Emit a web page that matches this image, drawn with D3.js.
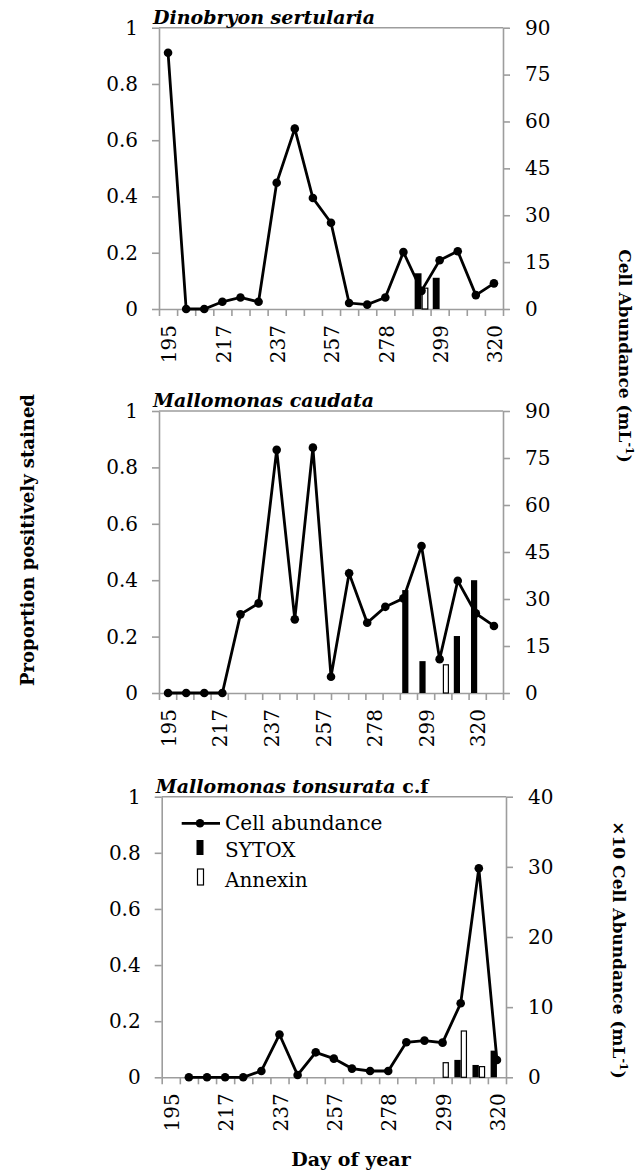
<!DOCTYPE html>
<html>
<head>
<meta charset="utf-8">
<script src="https://cdn.jsdelivr.net/npm/d3@7"></script>
<style>
body { margin: 0; background: #fff; }
svg text { font-family: 'DejaVu Serif', serif; fill: #000; }
</style>
</head>
<body>
<script>
// x tick labels (every 3rd category)
const dayLabels = ['195', '217', '237', '257', '278', '299', '320'];

// Dinobryon sertularia (19 sampling days)
const dinoAbund   = [82, 0, 0, 2.3, 3.7, 2.3, 40.4, 57.7, 35.5, 27.6, 1.9, 1.4, 3.7, 18.2, 5.8, 15.6, 18.5, 4.45, 8.2];
const dinoSytox   = [0, 0, 0, 0, 0, 0, 0, 0, 0, 0, 0, 0, 0, 0, 0.127, 0.111, 0, 0, 0];
const dinoAnnexin = [0, 0, 0, 0, 0, 0, 0, 0, 0, 0, 0, 0, 0, 0, 0.074, 0, 0, 0, 0];

// Mallomonas caudata (line on 19 days, bars on 20 categories)
const caudAbund   = [0, 0, 0, 0, 25.1, 28.6, 77.6, 23.5, 78.3, 5.2, 38.2, 22.4, 27.5, 30.2, 46.9, 10.8, 35.8, 25.4, 21.4];
const caudSytox   = [0, 0, 0, 0, 0, 0, 0, 0, 0, 0, 0, 0, 0, 0, 0.365, 0.113, 0, 0.202, 0.40, 0];
const caudAnnexin = [0, 0, 0, 0, 0, 0, 0, 0, 0, 0, 0, 0, 0, 0, 0, 0, 0.10, 0, 0, 0];

// Mallomonas tonsurata c.f (x10 cells)
const tonsAbund   = [null, 0, 0, 0, 0, 0.9, 6.1, 0.33, 3.56, 2.66, 1.24, 0.9, 0.9, 4.99, 5.23, 4.94, 10.55, 29.8, 2.47];
const tonsSytox   = [0, 0, 0, 0, 0, 0, 0, 0, 0, 0, 0, 0, 0, 0, 0, 0, 0.062, 0.044, 0.095];
const tonsAnnexin = [0, 0, 0, 0, 0, 0, 0, 0, 0, 0, 0, 0, 0, 0, 0, 0.052, 0.165, 0.038, 0];

const legendItems = ['Cell abundance', 'SYTOX', 'Annexin'];

const grey = '#9d9d9d';
const w = 637, h = 1174;

const svg = d3.select('body').append('svg')
  .attr('width', w)
  .attr('height', h);

const panels = [
  { title: [['Dinobryon sertularia', true]], abund: dinoAbund, sytox: dinoSytox, annexin: dinoAnnexin,
    rMax: 90, rStep: 15, l: 159, r: 503, t: 27.7, b: 309, bw: 0.38 },
  { title: [['Mallomonas caudata', true]], abund: caudAbund, sytox: caudSytox, annexin: caudAnnexin,
    rMax: 90, rStep: 15, l: 159, r: 503, t: 411, b: 693, bw: 0.36 },
  { title: [['Mallomonas tonsurata', true], [' c.f', false]], abund: tonsAbund, sytox: tonsSytox, annexin: tonsAnnexin,
    rMax: 40, rStep: 10, l: 161.7, r: 506, t: 796.7, b: 1077.3, bw: 0.35 }
];

function styleAxis(sel) {
  sel.attr('font-family', 'DejaVu Serif').attr('font-size', 20);
  sel.select('.domain').attr('stroke', grey).attr('stroke-width', 1.6);
  sel.selectAll('.tick line').attr('stroke', grey).attr('stroke-width', 1.6);
}

panels.forEach(p => {
  const g = svg.append('g');
  const nBar = p.sytox.length, nLine = p.abund.length;
  const xBar = d3.scaleLinear().domain([0, nBar]).range([p.l, p.r]);
  const xLine = d3.scaleLinear().domain([0, nLine]).range([p.l, p.r]);
  const yL = d3.scaleLinear().domain([0, 1]).range([p.b, p.t]);
  const yR = d3.scaleLinear().domain([0, p.rMax]).range([p.b, p.t]);

  // top border of plot area
  g.append('line')
    .attr('x1', p.l).attr('x2', p.r)
    .attr('y1', p.t).attr('y2', p.t)
    .attr('stroke', grey).attr('stroke-width', 1.6);

  g.append('g')
    .attr('transform', 'translate(' + p.l + ',0)')
    .call(d3.axisLeft(yL).tickValues([0, 0.2, 0.4, 0.6, 0.8, 1]).tickFormat(d3.format('~g'))
      .tickSize(7).tickSizeOuter(0).tickPadding(14))
    .call(styleAxis);

  g.append('g')
    .attr('transform', 'translate(' + p.r + ',0)')
    .call(d3.axisRight(yR).tickValues(d3.range(0, p.rMax + 1, p.rStep))
      .tickSize(7).tickSizeOuter(0).tickPadding(15))
    .call(styleAxis);

  g.append('g')
    .attr('transform', 'translate(0,' + p.b + ')')
    .call(d3.axisBottom(xBar).tickValues(d3.range(nBar + 1)).tickFormat('')
      .tickSize(7).tickSizeOuter(0))
    .call(styleAxis);

  g.selectAll('.day')
    .data(dayLabels)
    .join('text')
    .attr('class', 'day')
    .attr('transform', (d, i) => 'translate(' + (xBar(3 * i + 0.5) + 1) + ',' + (p.b + 16) + ') rotate(-90)')
    .attr('text-anchor', 'end')
    .attr('dy', '0.36em')
    .attr('font-size', 20)
    .text(d => d);

  const bw = (xBar(1) - xBar(0)) * p.bw;

  g.selectAll('.sytox')
    .data(p.sytox.map((v, i) => [i, v]).filter(d => d[1] > 0))
    .join('rect')
    .attr('x', d => xBar(d[0] + 0.5) - bw)
    .attr('y', d => yL(d[1]))
    .attr('width', bw)
    .attr('height', d => p.b - yL(d[1]))
    .attr('fill', '#000');

  g.selectAll('.annexin')
    .data(p.annexin.map((v, i) => [i, v]).filter(d => d[1] > 0))
    .join('rect')
    .attr('x', d => xBar(d[0] + 0.5) + 0.6)
    .attr('y', d => yL(d[1]))
    .attr('width', bw - 1.2)
    .attr('height', d => p.b - yL(d[1]))
    .attr('fill', '#fff')
    .attr('stroke', '#000')
    .attr('stroke-width', 1.2);

  const line = d3.line()
    .defined(d => d != null)
    .x((d, i) => xLine(i + 0.5))
    .y(d => yR(d));

  g.append('path')
    .datum(p.abund)
    .attr('d', line)
    .attr('fill', 'none')
    .attr('stroke', '#000')
    .attr('stroke-width', 2.8)
    .attr('stroke-linejoin', 'miter');

  g.selectAll('.pt')
    .data(p.abund.map((v, i) => [i, v]).filter(d => d[1] != null))
    .join('circle')
    .attr('cx', d => xLine(d[0] + 0.5))
    .attr('cy', d => yR(d[1]))
    .attr('r', 4.3)
    .attr('fill', '#000');

  const title = g.append('text')
    .attr('x', p.l - 6)
    .attr('y', p.t - 4)
    .attr('font-size', 19)
    .attr('font-weight', 'bold');
  p.title.forEach(t => {
    title.append('tspan').attr('font-style', t[1] ? 'italic' : 'normal').text(t[0]);
  });

  // legend only in the last panel
  if (p === panels[2]) {
    const lg = g.append('g');
    lg.append('line').attr('x1', 181.7).attr('x2', 220).attr('y1', 823.3).attr('y2', 823.3)
      .attr('stroke', '#000').attr('stroke-width', 2.8);
    lg.append('circle').attr('cx', 200).attr('cy', 823.3).attr('r', 4.3).attr('fill', '#000');
    lg.append('rect').attr('x', 196.5).attr('y', 840).attr('width', 7).attr('height', 15).attr('fill', '#000');
    lg.append('rect').attr('x', 197.5).attr('y', 869).attr('width', 6).attr('height', 16)
      .attr('fill', '#fff').attr('stroke', '#000').attr('stroke-width', 1.2);
    lg.selectAll('text')
      .data(legendItems)
      .join('text')
      .attr('x', 225)
      .attr('y', (d, i) => [830, 856.5, 886.5][i])
      .attr('font-size', 20)
      .text(d => d);
  }
});

// axis titles
svg.append('text')
  .attr('transform', 'translate(34,540) rotate(-90)')
  .attr('text-anchor', 'middle')
  .attr('font-size', 18)
  .attr('font-weight', 'bold')
  .text('Proportion positively stained');

function rightTitle(x, y, prefix) {
  const t = svg.append('text')
    .attr('transform', 'translate(' + x + ',' + y + ') rotate(90)')
    .attr('text-anchor', 'middle')
    .attr('font-size', 17)
    .attr('font-weight', 'bold');
  t.append('tspan').text(prefix + 'Cell Abundance (mL');
  t.append('tspan').attr('font-size', 11).attr('dy', -7).text('-1');
  t.append('tspan').attr('dy', 7).text(')');
}
rightTitle(619, 356, '');
rightTitle(613, 950, '×10 ');

svg.append('text')
  .attr('x', 351)
  .attr('y', 1166)
  .attr('text-anchor', 'middle')
  .attr('font-size', 19)
  .attr('font-weight', 'bold')
  .text('Day of year');
</script>
</body>
</html>
